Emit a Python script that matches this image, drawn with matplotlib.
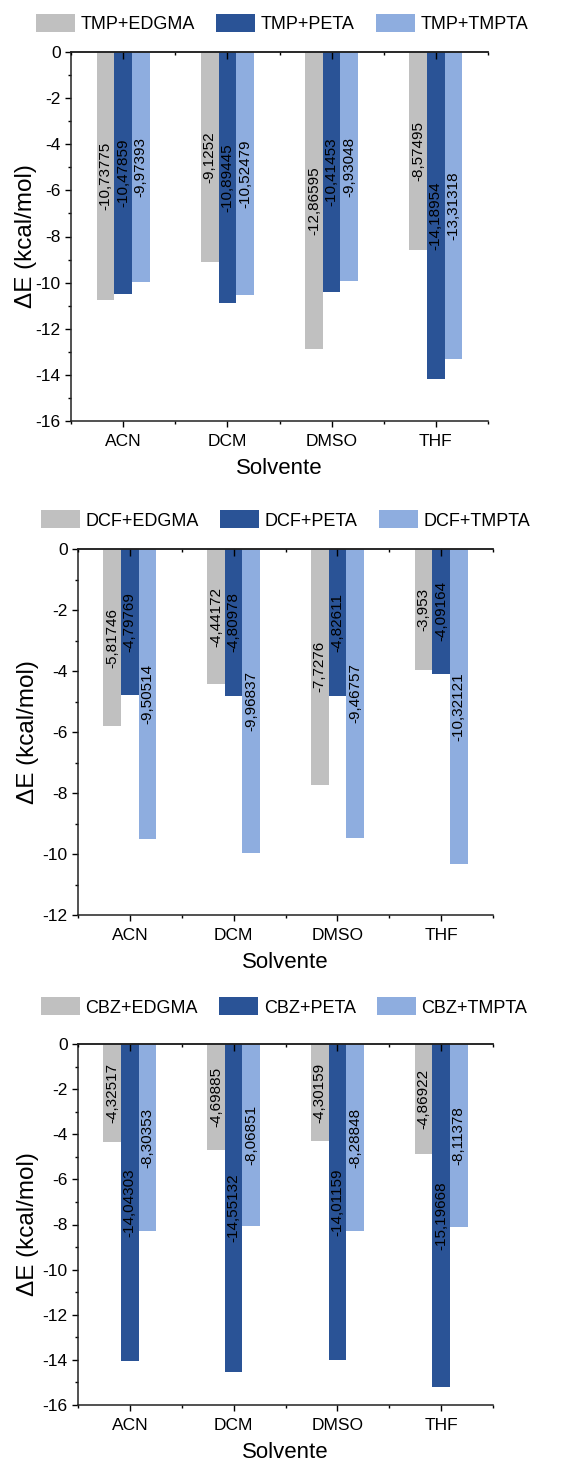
import matplotlib
matplotlib.use("Agg")
import matplotlib.pyplot as plt
from matplotlib.ticker import FixedLocator, MultipleLocator
import numpy as np

plt.rcParams['font.family'] = ['Liberation Sans', 'DejaVu Sans']
plt.rcParams['axes.unicode_minus'] = False

solvents = ["ACN", "DCM", "DMSO", "THF"]
monomers = ["EDGMA", "PETA", "TMPTA"]

tmp_edgma = [-10.73775, -9.1252, -12.86595, -8.57495]
tmp_peta = [-10.47859, -10.89445, -10.41453, -14.18954]
tmp_tmpta = [-9.97393, -10.52479, -9.93048, -13.31318]

dcf_edgma = [-5.81746, -4.44172, -7.7276, -3.953]
dcf_peta = [-4.79769, -4.80978, -4.82611, -4.09164]
dcf_tmpta = [-9.50514, -9.96837, -9.46757, -10.32121]

cbz_edgma = [-4.32517, -4.69885, -4.30159, -4.86922]
cbz_peta = [-14.04303, -14.55132, -14.01159, -15.19668]
cbz_tmpta = [-8.30353, -8.06851, -8.28848, -8.11378]

colors = ["#C0C0C0", "#2A5396", "#8EADDF"]

W, H = 574, 1470
fig = plt.figure(figsize=(W / 100, H / 100), dpi=100)


def panel(drug, series, left, right, top, bottom, ymin, legend_x, legend_y, ylab_x):
    ax = fig.add_axes([left / W, 1 - bottom / H, (right - left) / W, (bottom - top) / H])
    x = np.arange(len(solvents))
    bw = 0.17
    handles = []
    for i, (vals, col) in enumerate(zip(series, colors)):
        xs = x + (i - 1) * bw
        b = ax.bar(xs, vals, width=bw, color=col, edgecolor='none',
                   label=f"{drug}+{monomers[i]}", zorder=2)
        handles.append(b)
        for xi, v in zip(xs, vals):
            ax.text(xi, v / 2, str(v).replace('.', ','), rotation=90,
                    ha='center', va='center', fontsize=11, color='black', zorder=3)
    ax.set_xlim(-0.5, 3.5)
    ax.set_ylim(ymin, 0)
    ax.yaxis.set_major_locator(MultipleLocator(2))
    ax.yaxis.set_minor_locator(MultipleLocator(1))
    ax.set_xticks(x)
    ax.set_xticklabels(solvents, fontsize=12.5)
    ax.xaxis.set_minor_locator(FixedLocator([-0.5, 0.5, 1.5, 2.5, 3.5]))
    ax.tick_params(axis='y', which='major', direction='out', length=4, width=1, labelsize=12.5)
    ax.tick_params(axis='y', which='minor', direction='out', length=2.5, width=1)
    ax.tick_params(axis='x', which='major', direction='out', length=4.5, width=1, pad=5)
    ax.tick_params(axis='x', which='minor', direction='out', length=2.5, width=1)
    for s in ['left', 'bottom', 'top']:
        ax.spines[s].set_linewidth(1.1)
        ax.spines[s].set_color('#222222')
    ax.spines['right'].set_visible(False)
    # top ticks pointing inward
    axt = ax.twiny()
    axt.set_xlim(ax.get_xlim())
    axt.set_xticks(x)
    axt.set_xticklabels([])
    axt.xaxis.set_minor_locator(FixedLocator([-0.5, 0.5, 1.5, 2.5, 3.5]))
    axt.tick_params(axis='x', which='major', direction='in', length=5, width=1)
    axt.tick_params(axis='x', which='minor', direction='in', length=2.5, width=1)
    for s in ['left', 'right', 'bottom']:
        axt.spines[s].set_visible(False)
    axt.spines['top'].set_linewidth(1.1)
    axt.spines['top'].set_color('#222222')

    ax.set_xlabel("Solvente", fontsize=16, labelpad=6)
    ax.set_ylabel("ΔE (kcal/mol)", fontsize=17.5)
    ax.yaxis.set_label_coords((ylab_x - left) / (right - left), 0.5)
    fig.legend(handles=handles, loc='center left',
               bbox_to_anchor=(legend_x / W, 1 - legend_y / H),
               ncol=3, frameon=False, fontsize=13, borderpad=0, borderaxespad=0,
               handlelength=2.15, handleheight=1.15, handletextpad=0.3,
               columnspacing=1.2)
    return ax


panel("TMP", [tmp_edgma, tmp_peta, tmp_tmpta], 71, 488, 52, 421, -16, 36, 23.5, 37)
panel("DCF", [dcf_edgma, dcf_peta, dcf_tmpta], 78, 493, 549, 915, -12, 41, 520, 39)
panel("CBZ", [cbz_edgma, cbz_peta, cbz_tmpta], 78, 493, 1044, 1405, -16, 41, 1007, 39)

fig.savefig("out.png", dpi=100)
